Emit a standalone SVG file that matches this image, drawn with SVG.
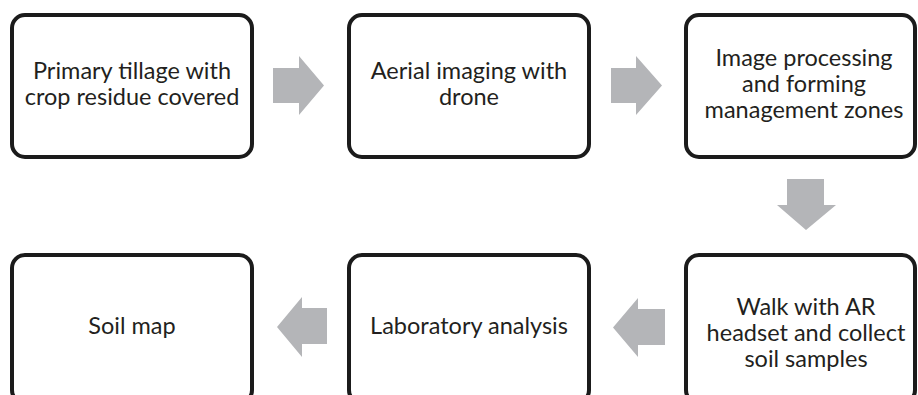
<svg xmlns="http://www.w3.org/2000/svg" width="918" height="395" viewBox="0 0 918 395">
<style>
.box{fill:#fff;stroke:#1b1b1b;stroke-width:4}
.lbl{font-family:Lato,"Liberation Sans",sans-serif;font-size:23.5px;fill:#231f20;text-anchor:middle}
.arr{fill:#b4b5b8}
</style>
<rect width="918" height="395" fill="#fff"/>
<g id="connectors">
<polygon class="arr" points="273,68 299,68 299,56 324,85.5 299,115 299,103 273,103"/>
<polygon class="arr" points="611,68 636,68 636,56 662,85.5 636,115 636,103 611,103"/>
<polygon class="arr" points="787,179 824,179 824,205 836,205 806,230 777,205 787,205"/>
<polygon class="arr" points="665,309 638,309 638,298 613,327.5 638,357 638,345 665,345"/>
<polygon class="arr" points="327,308 302,308 302,297 277,327 302,357 302,344 327,344"/>
</g>
<g id="n1">
<rect class="box" x="12" y="15" width="240" height="142" rx="13"/>
<text class="lbl" x="132" y="79">Primary tillage with</text>
<text class="lbl" x="132" y="105">crop residue covered</text>
</g>
<g id="n2">
<rect class="box" x="349" y="15" width="240" height="142" rx="13"/>
<text class="lbl" x="469" y="79">Aerial imaging with</text>
<text class="lbl" x="469" y="105">drone</text>
</g>
<g id="n3">
<rect class="box" x="686" y="15" width="229" height="142" rx="13"/>
<text class="lbl" x="804" y="66">Image processing</text>
<text class="lbl" x="804" y="92">and forming</text>
<text class="lbl" x="804" y="118">management zones</text>
</g>
<g id="n4">
<rect class="box" x="686" y="255" width="229" height="148" rx="13"/>
<text class="lbl" x="806" y="315">Walk with AR</text>
<text class="lbl" x="806" y="341">headset and collect</text>
<text class="lbl" x="806" y="367">soil samples</text>
</g>
<g id="n5">
<rect class="box" x="349" y="255" width="240" height="148" rx="13"/>
<text class="lbl" x="469" y="334">Laboratory analysis</text>
</g>
<g id="n6">
<rect class="box" x="12" y="255" width="240" height="148" rx="13"/>
<text class="lbl" x="132" y="334">Soil map</text>
</g>
</svg>
